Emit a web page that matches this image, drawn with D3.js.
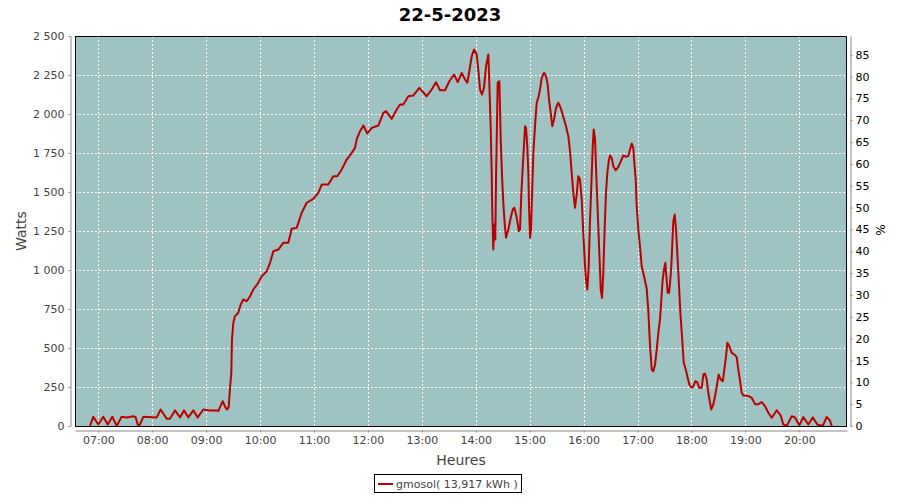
<!DOCTYPE html>
<html><head><meta charset="utf-8">
<script src="https://cdn.jsdelivr.net/npm/d3@7"></script>
<style>
html,body{margin:0;padding:0;background:#fff;}
svg{display:block;font-family:"DejaVu Sans",sans-serif;}
</style></head>
<body><svg id="c" width="900" height="500"></svg>
<script>
const title = "22-5-2023";
const seriesName = "gmosol( 13,917 kWh )";
const xLabel = "Heures", yLabel = "Watts", y2Label = "%";
const xDomain = ["06:34:05", "20:53:05"];
const yTicks = [0,250,500,750,1000,1250,1500,1750,2000,2250,2500];
const y2Ticks = [0,5,10,15,20,25,30,35,40,45,50,55,60,65,70,75,80,85];
const xTickLabels = ["07:00","08:00","09:00","10:00","11:00","12:00","13:00","14:00","15:00","16:00","17:00","18:00","19:00","20:00"];
const peakPower = 2800; // W corresponding to 100 %
const times = ["06:50:45","06:54:25","07:00:00","07:05:35","07:10:30","07:15:35","07:20:30","07:26:00","07:31:35","07:38:55","07:41:25","07:44:30","07:46:25","07:50:05","08:05:00","08:09:25","08:16:05","08:19:45","08:25:20","08:30:55","08:35:20","08:40:10","08:45:45","08:50:35","08:56:50","09:04:20","09:11:45","09:13:30","09:18:25","09:21:00","09:22:55","09:25:05","09:26:35","09:28:00","09:28:45","09:30:15","09:32:05","09:35:45","09:38:30","09:41:20","09:45:10","09:48:50","09:52:30","09:58:00","10:01:50","10:07:25","10:11:05","10:14:45","10:20:20","10:25:50","10:31:25","10:35:15","10:40:45","10:46:20","10:51:55","10:59:15","11:04:50","11:08:35","11:15:55","11:21:30","11:25:55","11:30:50","11:36:25","11:42:00","11:45:40","11:47:30","11:51:15","11:54:55","11:59:20","12:04:15","12:11:35","12:17:10","12:20:10","12:26:30","12:32:05","12:35:45","12:39:25","12:45:00","12:50:30","12:57:10","13:05:25","13:11:00","13:15:45","13:20:15","13:25:50","13:30:35","13:35:50","13:39:55","13:44:25","13:48:05","13:50:35","13:52:50","13:55:30","13:58:05","14:01:05","14:02:50","14:04:45","14:07:00","14:09:10","14:11:25","14:14:00","14:15:05","14:16:40","14:17:45","14:18:25","14:19:30","14:20:40","14:21:45","14:22:35","14:23:20","14:24:25","14:26:15","14:27:00","14:27:45","14:29:15","14:30:40","14:32:15","14:33:40","14:36:15","14:38:55","14:41:10","14:42:55","14:44:50","14:46:15","14:47:50","14:49:15","14:50:40","14:52:15","14:53:40","14:54:50","14:55:55","14:57:20","14:58:30","14:59:15","15:00:25","15:01:30","15:02:55","15:04:05","15:05:55","15:07:50","15:09:35","15:11:30","15:13:25","15:16:00","15:18:10","15:20:05","15:21:30","15:23:25","15:25:10","15:27:05","15:29:20","15:31:50","15:33:45","15:35:40","15:38:15","15:40:25","15:43:00","15:44:55","15:46:45","15:48:35","15:50:25","15:52:20","15:54:05","15:56:00","15:57:55","15:59:40","16:01:35","16:02:40","16:04:10","16:05:40","16:07:10","16:08:35","16:10:10","16:11:15","16:12:45","16:14:10","16:15:45","16:17:30","16:19:05","16:20:30","16:21:55","16:23:30","16:24:55","16:26:25","16:27:55","16:29:25","16:31:15","16:33:05","16:35:45","16:38:40","16:41:20","16:44:10","16:47:10","16:49:45","16:51:40","16:53:35","16:55:20","16:56:25","16:58:00","16:59:05","17:00:55","17:02:45","17:04:40","17:07:15","17:10:15","17:12:00","17:13:55","17:15:50","17:17:35","17:19:30","17:21:20","17:23:10","17:25:00","17:26:30","17:28:00","17:29:30","17:30:55","17:32:05","17:33:35","17:35:05","17:36:10","17:37:35","17:38:45","17:39:50","17:41:25","17:42:50","17:44:15","17:46:10","17:47:40","17:49:30","17:51:25","17:53:40","17:55:25","17:57:40","18:00:20","18:02:05","18:04:20","18:06:30","18:08:45","18:11:25","18:13:15","18:15:05","18:17:00","18:18:45","18:20:40","18:22:05","18:24:20","18:26:15","18:28:10","18:30:20","18:32:35","18:34:50","18:36:35","18:38:30","18:39:55","18:42:10","18:44:50","18:48:30","18:50:25","18:52:10","18:54:05","18:55:55","18:57:45","19:03:20","19:07:05","19:10:45","19:14:25","19:18:10","19:21:55","19:25:35","19:29:20","19:34:55","19:39:20","19:42:15","19:46:00","19:51:35","19:55:15","20:00:00","20:04:30","20:10:05","20:14:55","20:20:05","20:26:05","20:30:30","20:34:10","20:36:05"];
const watts = [0,59,10,59,10,59,0,59,55,62,58,0,10,59,55,106,46,46,100,55,100,55,100,55,106,100,100,95,159,125,106,120,245,341,555,662,704,726,779,811,800,832,875,918,960,992,1046,1120,1131,1174,1174,1264,1270,1367,1431,1456,1495,1548,1548,1601,1601,1644,1708,1751,1783,1837,1890,1926,1875,1911,1926,2007,2018,1969,2029,2061,2061,2114,2118,2168,2114,2157,2204,2152,2152,2210,2253,2204,2263,2221,2200,2274,2370,2413,2381,2285,2157,2125,2168,2306,2381,2200,1901,1623,1367,1131,1292,1196,1601,1837,2200,2210,2029,1837,1601,1431,1292,1207,1260,1335,1388,1399,1356,1313,1249,1260,1484,1655,1794,1922,1911,1794,1623,1409,1207,1260,1537,1751,1922,2072,2104,2157,2232,2264,2242,2189,2093,2007,1922,1965,2040,2072,2050,2018,1965,1922,1858,1760,1623,1495,1399,1484,1601,1580,1452,1238,1024,939,875,1024,1324,1537,1794,1901,1837,1601,1367,1110,875,822,982,1281,1495,1623,1697,1734,1719,1665,1640,1661,1697,1734,1726,1730,1773,1811,1783,1687,1580,1409,1260,1150,1024,960,880,740,512,362,351,394,490,597,683,811,939,1003,1046,960,854,854,918,1024,1174,1313,1356,1260,1110,896,726,576,405,362,319,266,245,255,287,280,245,245,330,335,298,213,149,106,138,191,255,330,298,287,362,447,533,512,469,455,440,362,287,213,195,193,181,140,140,153,127,85,53,101,67,10,0,63,55,5,57,10,55,10,0,59,35,0];

const parse = d3.timeParse("%H:%M:%S");
const parseHM = d3.timeParse("%H:%M");
const data = times.map((t,i)=>({t:parse(t), v:watts[i]}));

const svg = d3.select("#c");
const L=75, R=847, T=36, B=426;
const x = d3.scaleTime().domain(xDomain.map(parse)).range([L,R]);
const y = d3.scaleLinear().domain([0,2500]).range([B,T]);
const y2 = d3.scaleLinear().domain([0,2500/peakPower*100]).range([B,T]);
const loc = d3.formatLocale({decimal:",", thousands:" ", grouping:[3], currency:["","€"]});
const fmtY = loc.format(",d");
const txt = "#444";

svg.append("text").attr("x",450).attr("y",21).attr("text-anchor","middle")
  .attr("font-size",18).attr("font-weight","bold").attr("fill","#000").text(title);

svg.append("rect").attr("x",L).attr("y",T).attr("width",R-L).attr("height",B-T).attr("fill","#9ec3c2");

const grid = svg.append("g").attr("stroke","#fff").attr("stroke-width",1).attr("stroke-dasharray","2,2");
xTickLabels.map(parseHM).forEach(d=>{
  const px = Math.round(x(d))+0.5;
  grid.append("line").attr("x1",px).attr("x2",px).attr("y1",T).attr("y2",B);
});
yTicks.forEach(d=>{
  const py = Math.round(y(d))+0.5;
  grid.append("line").attr("x1",L).attr("x2",R).attr("y1",py).attr("y2",py);
});

svg.append("clipPath").attr("id","clip").append("rect").attr("x",L).attr("y",T).attr("width",R-L).attr("height",B-T);
svg.append("path").datum(data).attr("clip-path","url(#clip)")
  .attr("fill","none").attr("stroke","#bb0000").attr("stroke-width",2).attr("stroke-linejoin","round")
  .attr("d", d3.line().x(d=>x(d.t)).y(d=>y(d.v)));

svg.append("rect").attr("x",L+0.5).attr("y",T+0.5).attr("width",R-L-1).attr("height",B-T).attr("fill","none").attr("stroke","#000");

function styleAxis(g){
  g.selectAll(".domain").attr("stroke","#888");
  g.selectAll(".tick line").attr("stroke","#888");
  g.selectAll(".tick text").attr("fill",txt).attr("font-size",11).attr("font-family","DejaVu Sans, sans-serif");
}
const gx = svg.append("g").attr("transform",`translate(0,${B+4.5})`)
  .call(d3.axisBottom(x).tickValues(xTickLabels.map(parseHM)).tickFormat(d3.timeFormat("%H:%M")).tickSize(2).tickSizeOuter(0).tickPadding(4));
styleAxis(gx);
const gy = svg.append("g").attr("transform",`translate(${L-4.5},0)`)
  .call(d3.axisLeft(y).tickValues(yTicks).tickFormat(fmtY).tickSize(2).tickSizeOuter(0).tickPadding(4));
styleAxis(gy);
const gy2 = svg.append("g").attr("transform",`translate(${R+3.5},0)`)
  .call(d3.axisRight(y2).tickValues(y2Ticks).tickSize(2).tickSizeOuter(0).tickPadding(3));
styleAxis(gy2);
gy2.selectAll(".tick text").attr("fill","#000");

svg.append("text").attr("x",461).attr("y",465).attr("text-anchor","middle").attr("font-size",14).attr("fill",txt).text(xLabel);
svg.append("text").attr("transform","translate(26,231) rotate(-90)").attr("text-anchor","middle").attr("font-size",14).attr("fill",txt).text(yLabel);
svg.append("text").attr("transform","translate(885,230) rotate(-90)").attr("text-anchor","middle").attr("font-size",12).attr("fill","#000").text(y2Label);

const lg = svg.append("g");
lg.append("rect").attr("x",374.5).attr("y",474.5).attr("width",147).attr("height",18).attr("fill","#fff").attr("stroke","#000");
lg.append("line").attr("x1",378).attr("x2",393).attr("y1",484).attr("y2",484).attr("stroke","#bb0000").attr("stroke-width",2);
lg.append("text").attr("x",396).attr("y",488).attr("font-size",11).attr("fill",txt).text(seriesName);
</script></body></html>
